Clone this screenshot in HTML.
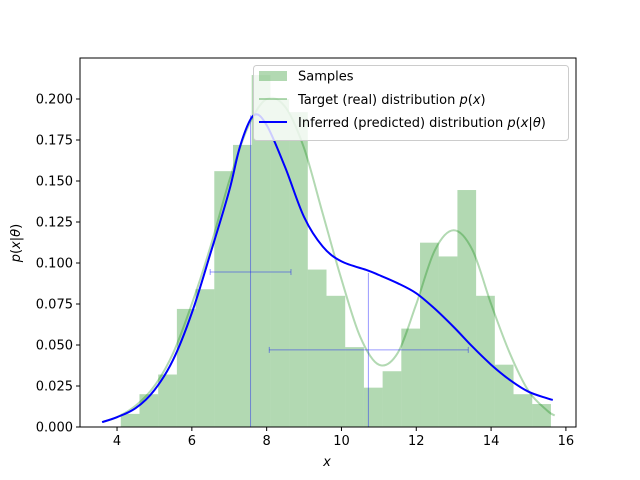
<!DOCTYPE html>
<html><head><meta charset="utf-8"><style>
html,body{margin:0;padding:0;background:#fff}
svg{display:block;font-family:"DejaVu Sans","Liberation Sans",sans-serif}
</style></head><body>
<svg id="chart" width="640" height="480" viewBox="0 0 640 480" xmlns="http://www.w3.org/2000/svg">
<g id="bars"></g>
<g id="lines"></g>
<g id="err"></g>
<g id="axes"></g>
<text x="327" y="466" font-size="13" font-style="italic" text-anchor="middle">x</text>
<text transform="translate(20,243) rotate(-90)" font-size="13" text-anchor="middle"><tspan font-style="italic">p</tspan>(<tspan font-style="italic">x</tspan>|<tspan font-style="italic">θ</tspan>)</text>
<g>
<rect x="253.5" y="65.5" width="315" height="75" rx="3" fill="#fff" fill-opacity="0.8" stroke="#ccc"/>
<rect x="259" y="71" width="28" height="10" fill="#008000" fill-opacity="0.3"/>
<text x="298" y="80.5" font-size="13">Samples</text>
<line x1="259" x2="287" y1="99" y2="99" stroke="#008000" stroke-opacity="0.3" stroke-width="2"/>
<text x="298" y="104" font-size="13">Target (real) distribution <tspan font-style="italic">p</tspan>(<tspan font-style="italic">x</tspan>)</text>
<line x1="259" x2="287" y1="122" y2="122" stroke="#0000ff" stroke-width="2"/>
<text x="298" y="127" font-size="13">Inferred (predicted) distribution <tspan font-style="italic">p</tspan>(<tspan font-style="italic">x</tspan>|<tspan font-style="italic">θ</tspan>)</text>
</g>
</svg>
<script>
const binStart = 4.1, binWidth = 0.5;
const binHeights = [0.008,0.020,0.032,0.072,0.084,0.156,0.172,0.2146,0.200,0.192,0.096,0.080,0.0487,0.024,0.034,0.060,0.1124,0.104,0.1445,0.080,0.038,0.020,0.014];
const targetX = [3.6,4,4.5,5,5.5,6,6.5,7,7.5,8,8.5,9,9.5,10,10.5,11,11.5,12,12.5,13,13.5,14,14.5,15,15.5,15.7];
const targetY = [0.003,0.006,0.013,0.025,0.045,0.075,0.11,0.15,0.183,0.2,0.195,0.17,0.13,0.09,0.055,0.038,0.045,0.075,0.108,0.12,0.108,0.075,0.045,0.022,0.01,0.007];
const inferX = [3.6,4,4.5,5,5.5,6,6.5,7,7.3,7.65,8,8.5,9,9.5,10,10.7,11,11.5,12,12.5,13,13.5,14,14.5,15,15.5,15.65];
const inferY = [0.003,0.006,0.0115,0.0225,0.041,0.0695,0.106,0.144,0.172,0.190,0.184,0.158,0.128,0.110,0.101,0.0955,0.0927,0.0877,0.0815,0.072,0.061,0.049,0.038,0.0287,0.0215,0.0175,0.0165];
const errX = [7.57,10.72];
const errY = [0.0945,0.047];
const errXLo = [6.49,8.07];
const errXHi = [8.65,13.39];
const errYLo = [0,0];
const errYHi = [0.19,0.094];
const xTicks = [4,6,8,10,12,14,16];
const yTicks = [0,0.025,0.05,0.075,0.1,0.125,0.15,0.175,0.2];
const yTickLabels = ["0.000","0.025","0.050","0.075","0.100","0.125","0.150","0.175","0.200"];

const NS="http://www.w3.org/2000/svg";
const X0=80,X1=576,Y0=58,Y1=427, XMIN=3.01, XMAX=16.27, YMAX=0.225;
const sx=v=>X0+(v-XMIN)/(XMAX-XMIN)*(X1-X0);
const sy=v=>Y1-v/YMAX*(Y1-Y0);
function mk(tag,attrs,parent){const e=document.createElementNS(NS,tag);for(const k in attrs)e.setAttribute(k,attrs[k]);parent.appendChild(e);return e;}
const bars=document.getElementById('bars');
binHeights.forEach((h,i)=>{
  const a=sx(binStart+i*binWidth), b=sx(binStart+(i+1)*binWidth);
  const r=mk('rect',{x:a,y:sy(h),width:b-a,height:Y1-sy(h),fill:'#008000','fill-opacity':0.3},bars);
  
  
});
const lines=document.getElementById('lines');
function smooth(xs,ys){
  const p=xs.map((x,i)=>[sx(x),sy(ys[i])]);
  let d='M'+p[0][0].toFixed(1)+','+p[0][1].toFixed(1);
  for(let i=0;i<p.length-1;i++){
    const p0=p[i-1]||p[i],p1=p[i],p2=p[i+1],p3=p[i+2]||p[i+1];
    const c1=[p1[0]+(p2[0]-p0[0])/6,p1[1]+(p2[1]-p0[1])/6];
    const c2=[p2[0]-(p3[0]-p1[0])/6,p2[1]-(p3[1]-p1[1])/6];
    d+=' C'+c1.map(v=>v.toFixed(1)).join(',')+' '+c2.map(v=>v.toFixed(1)).join(',')+' '+p2[0].toFixed(1)+','+p2[1].toFixed(1);
  }
  return d;
}
const t=mk('path',{d:smooth(targetX,targetY),fill:'none',stroke:'#008000','stroke-opacity':0.3,'stroke-width':2},lines);


const inf=mk('path',{d:smooth(inferX,inferY),fill:'none',stroke:'#0000ff','stroke-width':2},lines);


const err=document.getElementById('err');
errX.forEach((x,i)=>{
  const g=mk('g',{stroke:'#0000ff','stroke-opacity':0.4,'stroke-width':1},err);
  
  
  mk('line',{x1:sx(errXLo[i]),x2:sx(errXHi[i]),y1:sy(errY[i]),y2:sy(errY[i])},g);
  mk('line',{x1:sx(x),x2:sx(x),y1:sy(errYLo[i]),y2:sy(errYHi[i])},g);
  [errXLo[i],errXHi[i]].forEach(v=>mk('line',{x1:sx(v),x2:sx(v),y1:sy(errY[i])-3,y2:sy(errY[i])+3},g));
});
const axes=document.getElementById('axes');
mk('rect',{x:X0,y:Y0,width:X1-X0,height:Y1-Y0,fill:'none',stroke:'#000','stroke-width':1},axes);
xTicks.forEach(v=>{
  mk('line',{x1:sx(v),x2:sx(v),y1:Y1,y2:Y1+4,stroke:'#000'},axes);
  const tx=mk('text',{x:sx(v),y:Y1+18,'font-size':13,'text-anchor':'middle'},axes);
  tx.textContent=v;
  
  
});
yTicks.forEach((v,i)=>{
  mk('line',{x1:X0-4,x2:X0,y1:sy(v),y2:sy(v),stroke:'#000'},axes);
  const ty=mk('text',{x:X0-7,y:sy(v)+4.5,'font-size':13,'text-anchor':'end'},axes);
  ty.textContent=yTickLabels[i];
  
  
});
</script>
</body></html>
